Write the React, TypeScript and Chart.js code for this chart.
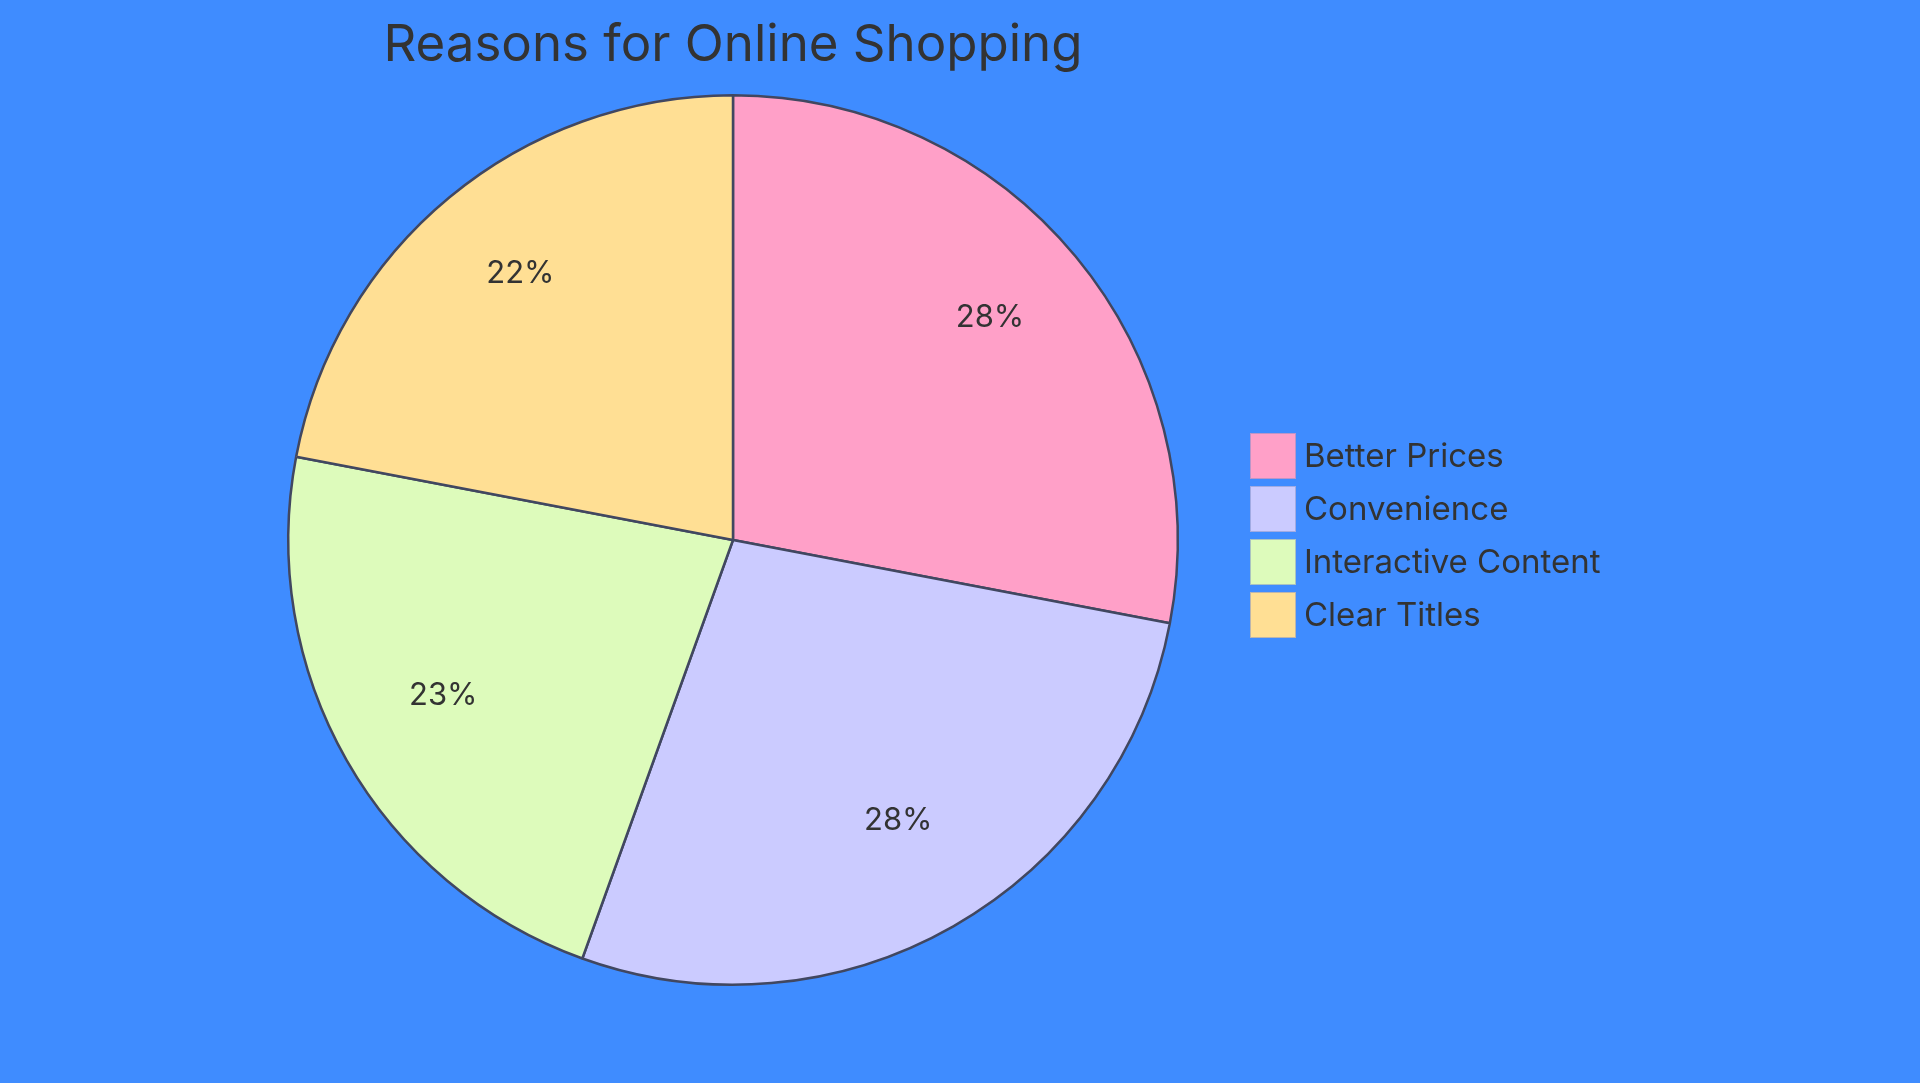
import { useEffect, useRef } from 'react';
import { Chart, registerables } from 'chart.js';

Chart.register(...registerables);

const categories = ['Better Prices', 'Convenience', 'Interactive Content', 'Clear Titles'];
const shares = [28, 27.5, 22.5, 22];
const sliceColors = ['#FFA0C8', '#CBCBFF', '#DDFBBB', '#FFDF94'];
const chartTitle = 'Reasons for Online Shopping';

const FONT = 'Inter, "Open Sans", sans-serif';
const TEXT = '#333333';

// title, legend and percent labels, drawn on top of the pie
const overlayPlugin = {
    id: 'overlay',
    afterDraw(chart: any) {
        const ctx = chart.ctx as CanvasRenderingContext2D;
        const meta = chart.getDatasetMeta(0);
        const total = shares.reduce((a, b) => a + b, 0);
        ctx.save();

        // percent labels at 0.75 of radius
        ctx.fillStyle = TEXT;
        ctx.font = `31px ${FONT}`;
        ctx.textAlign = 'center';
        ctx.textBaseline = 'alphabetic';
        meta.data.forEach((arc: any, i: number) => {
            const mid = (arc.startAngle + arc.endAngle) / 2;
            const r = arc.outerRadius * 0.75;
            const x = arc.x + Math.cos(mid) * r;
            const y = arc.y + Math.sin(mid) * r;
            ctx.fillText(Math.round((shares[i] / total) * 100) + '%', x, y);
        });

        // title
        const cx = meta.data[0].x;
        ctx.font = `51px ${FONT}`;
        ctx.fillText(chartTitle, cx, 61);

        // legend
        ctx.textAlign = 'left';
        ctx.textBaseline = 'middle';
        ctx.font = `33px ${FONT}`;
        categories.forEach((c, i) => {
            const y = 433 + i * 53;
            ctx.fillStyle = sliceColors[i];
            ctx.fillRect(1250, y, 46, 46);
            ctx.strokeStyle = 'rgba(120,140,200,0.5)';
            ctx.lineWidth = 1;
            ctx.strokeRect(1250.5, y + 0.5, 45, 45);
            ctx.fillStyle = TEXT;
            ctx.fillText(c, 1304, y + 24);
        });

        ctx.restore();
    },
};

export default function App() {
    const chartRef = useRef<HTMLCanvasElement | null>(null);
    const chartInstance = useRef<Chart | null>(null);

    useEffect(() => {
        document.body.style.margin = '0';
        const ctx = chartRef.current?.getContext('2d');
        if (ctx) {
            if (chartInstance.current) {
                chartInstance.current.destroy();
            }
            chartInstance.current = new Chart(ctx, {
                type: 'pie',
                data: {
                    labels: categories,
                    datasets: [
                        {
                            data: shares,
                            backgroundColor: sliceColors,
                            borderColor: '#414760',
                            borderWidth: 2.5,
                        },
                    ],
                },
                options: {
                    animation: false,
                    responsive: false,
                    layout: {
                        padding: { left: 287, right: 741, top: 94, bottom: 97 },
                    },
                    plugins: {
                        legend: { display: false },
                        title: { display: false },
                        tooltip: { enabled: false },
                    },
                },
                plugins: [overlayPlugin],
            });
        }
        return () => {
            if (chartInstance.current) {
                chartInstance.current.destroy();
                chartInstance.current = null;
            }
        };
    }, []);

    return (
        <div style={{ width: 1920, height: 1083, background: '#3F8CFF' }}>
            <canvas ref={chartRef} width={1920} height={1083}></canvas>
        </div>
    );
}
